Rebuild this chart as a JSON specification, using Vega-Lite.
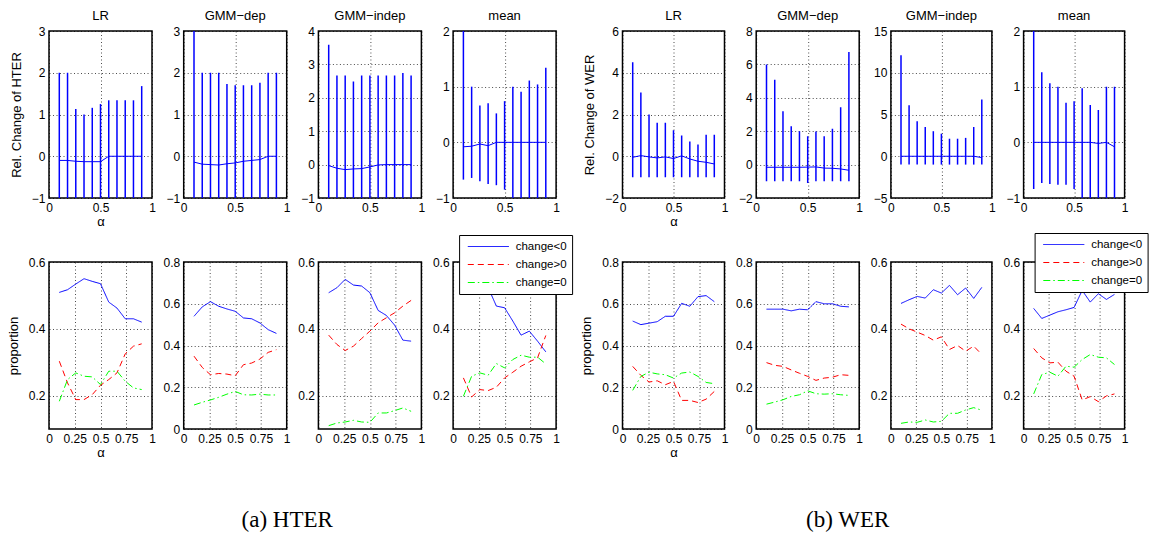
{
"$schema": "https://vega.github.io/schema/vega-lite/v6.json",
"background": "white",
"padding": {"left": 6, "top": 9, "right": 0, "bottom": 0},
"columns": 9,
"spacing": {"row": 64, "column": 31.7},
"bounds": "flush",
"align": "each",
"resolve": {"legend": {"stroke": "independent", "strokeDash": "independent"}},
"datasets": {
"bars": [
{"m":"H","k":"LR","a":0.1,"lo":-1,"hi":2,"mid":-0.1},{"m":"H","k":"LR","a":0.18,"lo":-1,"hi":2,"mid":-0.1},{"m":"H","k":"LR","a":0.26,"lo":-1,"hi":1.13,"mid":-0.12},{"m":"H","k":"LR","a":0.34,"lo":-1,"hi":1.0,"mid":-0.13},{"m":"H","k":"LR","a":0.42,"lo":-1,"hi":1.16,"mid":-0.13},{"m":"H","k":"LR","a":0.5,"lo":-1,"hi":1.25,"mid":-0.13},{"m":"H","k":"LR","a":0.58,"lo":-1,"hi":1.34,"mid":0},{"m":"H","k":"LR","a":0.66,"lo":-1,"hi":1.34,"mid":0},{"m":"H","k":"LR","a":0.74,"lo":-1,"hi":1.34,"mid":0},{"m":"H","k":"LR","a":0.82,"lo":-1,"hi":1.34,"mid":0},{"m":"H","k":"LR","a":0.9,"lo":-1,"hi":1.68,"mid":0},
{"m":"H","k":"dep","a":0.1,"lo":-1,"hi":3,"mid":-0.14},{"m":"H","k":"dep","a":0.18,"lo":-1,"hi":2,"mid":-0.19},{"m":"H","k":"dep","a":0.26,"lo":-1,"hi":2,"mid":-0.2},{"m":"H","k":"dep","a":0.34,"lo":-1,"hi":2,"mid":-0.21},{"m":"H","k":"dep","a":0.42,"lo":-1,"hi":1.73,"mid":-0.18},{"m":"H","k":"dep","a":0.5,"lo":-1,"hi":1.7,"mid":-0.16},{"m":"H","k":"dep","a":0.58,"lo":-1,"hi":1.7,"mid":-0.12},{"m":"H","k":"dep","a":0.66,"lo":-1,"hi":1.7,"mid":-0.1},{"m":"H","k":"dep","a":0.74,"lo":-1,"hi":1.76,"mid":-0.08},{"m":"H","k":"dep","a":0.82,"lo":-1,"hi":2,"mid":0},{"m":"H","k":"dep","a":0.9,"lo":-1,"hi":2,"mid":0},
{"m":"H","k":"indep","a":0.1,"lo":-1,"hi":3.59,"mid":-0.03},{"m":"H","k":"indep","a":0.18,"lo":-1,"hi":2.67,"mid":-0.11},{"m":"H","k":"indep","a":0.26,"lo":-1,"hi":2.67,"mid":-0.15},{"m":"H","k":"indep","a":0.34,"lo":-1,"hi":2.49,"mid":-0.13},{"m":"H","k":"indep","a":0.42,"lo":-1,"hi":2.67,"mid":-0.12},{"m":"H","k":"indep","a":0.5,"lo":-1,"hi":2.67,"mid":-0.07},{"m":"H","k":"indep","a":0.58,"lo":-1,"hi":2.67,"mid":-0.01},{"m":"H","k":"indep","a":0.66,"lo":-1,"hi":2.67,"mid":0},{"m":"H","k":"indep","a":0.74,"lo":-1,"hi":2.67,"mid":0},{"m":"H","k":"indep","a":0.82,"lo":-1,"hi":2.74,"mid":0},{"m":"H","k":"indep","a":0.9,"lo":-1,"hi":2.67,"mid":0},
{"m":"H","k":"mean","a":0.1,"lo":-0.67,"hi":2,"mid":-0.08},{"m":"H","k":"mean","a":0.18,"lo":-0.64,"hi":1.0,"mid":-0.07},{"m":"H","k":"mean","a":0.26,"lo":-0.7,"hi":0.66,"mid":-0.03},{"m":"H","k":"mean","a":0.34,"lo":-0.75,"hi":0.7,"mid":-0.06},{"m":"H","k":"mean","a":0.42,"lo":-0.77,"hi":0.52,"mid":0},{"m":"H","k":"mean","a":0.5,"lo":-0.85,"hi":0.74,"mid":0},{"m":"H","k":"mean","a":0.58,"lo":-1,"hi":1.0,"mid":0},{"m":"H","k":"mean","a":0.66,"lo":-1,"hi":0.91,"mid":0},{"m":"H","k":"mean","a":0.74,"lo":-1,"hi":1.11,"mid":0},{"m":"H","k":"mean","a":0.82,"lo":-1,"hi":1.04,"mid":0},{"m":"H","k":"mean","a":0.9,"lo":-1,"hi":1.34,"mid":0},
{"m":"W","k":"LR","a":0.1,"lo":-1,"hi":4.5,"mid":-0.05},{"m":"W","k":"LR","a":0.18,"lo":-1,"hi":3.05,"mid":0.03},{"m":"W","k":"LR","a":0.26,"lo":-1,"hi":2.0,"mid":-0.03},{"m":"W","k":"LR","a":0.34,"lo":-1,"hi":1.6,"mid":-0.08},{"m":"W","k":"LR","a":0.42,"lo":-1,"hi":1.6,"mid":-0.03},{"m":"W","k":"LR","a":0.5,"lo":-1,"hi":1.24,"mid":-0.11},{"m":"W","k":"LR","a":0.58,"lo":-1,"hi":1.0,"mid":0.02},{"m":"W","k":"LR","a":0.66,"lo":-1,"hi":0.71,"mid":-0.13},{"m":"W","k":"LR","a":0.74,"lo":-1,"hi":0.56,"mid":-0.24},{"m":"W","k":"LR","a":0.82,"lo":-1,"hi":1.03,"mid":-0.29},{"m":"W","k":"LR","a":0.9,"lo":-1,"hi":1.03,"mid":-0.37},
{"m":"W","k":"dep","a":0.1,"lo":-1,"hi":6.0,"mid":-0.16},{"m":"W","k":"dep","a":0.18,"lo":-1,"hi":5.08,"mid":-0.16},{"m":"W","k":"dep","a":0.26,"lo":-1,"hi":3.2,"mid":-0.16},{"m":"W","k":"dep","a":0.34,"lo":-1,"hi":2.3,"mid":-0.16},{"m":"W","k":"dep","a":0.42,"lo":-1,"hi":2.0,"mid":-0.16},{"m":"W","k":"dep","a":0.5,"lo":-1.1,"hi":1.7,"mid":-0.15},{"m":"W","k":"dep","a":0.58,"lo":-1,"hi":1.98,"mid":-0.14},{"m":"W","k":"dep","a":0.66,"lo":-1,"hi":1.7,"mid":-0.21},{"m":"W","k":"dep","a":0.74,"lo":-1,"hi":2.14,"mid":-0.22},{"m":"W","k":"dep","a":0.82,"lo":-1,"hi":3.44,"mid":-0.26},{"m":"W","k":"dep","a":0.9,"lo":-1,"hi":6.74,"mid":-0.34},
{"m":"W","k":"indep","a":0.1,"lo":-1,"hi":12.1,"mid":0},{"m":"W","k":"indep","a":0.18,"lo":-1,"hi":6.1,"mid":0},{"m":"W","k":"indep","a":0.26,"lo":-1,"hi":4.2,"mid":0},{"m":"W","k":"indep","a":0.34,"lo":-1,"hi":3.5,"mid":0},{"m":"W","k":"indep","a":0.42,"lo":-1,"hi":3.0,"mid":0},{"m":"W","k":"indep","a":0.5,"lo":-1,"hi":2.7,"mid":0},{"m":"W","k":"indep","a":0.58,"lo":-1,"hi":2.1,"mid":0},{"m":"W","k":"indep","a":0.66,"lo":-1,"hi":2.1,"mid":0},{"m":"W","k":"indep","a":0.74,"lo":-1,"hi":2.2,"mid":0},{"m":"W","k":"indep","a":0.82,"lo":-1,"hi":3.5,"mid":0},{"m":"W","k":"indep","a":0.9,"lo":-1,"hi":6.8,"mid":-0.16},
{"m":"W","k":"mean","a":0.1,"lo":-0.84,"hi":2,"mid":0},{"m":"W","k":"mean","a":0.18,"lo":-0.73,"hi":1.26,"mid":0},{"m":"W","k":"mean","a":0.26,"lo":-0.75,"hi":1.06,"mid":0},{"m":"W","k":"mean","a":0.34,"lo":-0.76,"hi":1.0,"mid":0},{"m":"W","k":"mean","a":0.42,"lo":-0.76,"hi":0.71,"mid":0},{"m":"W","k":"mean","a":0.5,"lo":-0.84,"hi":0.74,"mid":0},{"m":"W","k":"mean","a":0.58,"lo":-1,"hi":0.97,"mid":0},{"m":"W","k":"mean","a":0.66,"lo":-1,"hi":0.67,"mid":0},{"m":"W","k":"mean","a":0.74,"lo":-1,"hi":0.58,"mid":-0.02},{"m":"W","k":"mean","a":0.82,"lo":-1,"hi":1.0,"mid":0},{"m":"W","k":"mean","a":0.9,"lo":-1,"hi":1.0,"mid":-0.08}
],
"props": [
{"m":"H","k":"LR","s":"change<0","a":0.1,"v":0.509},{"m":"H","k":"LR","s":"change<0","a":0.18,"v":0.517},{"m":"H","k":"LR","s":"change<0","a":0.26,"v":0.534},{"m":"H","k":"LR","s":"change<0","a":0.34,"v":0.55},{"m":"H","k":"LR","s":"change<0","a":0.42,"v":0.542},{"m":"H","k":"LR","s":"change<0","a":0.5,"v":0.535},{"m":"H","k":"LR","s":"change<0","a":0.58,"v":0.48},{"m":"H","k":"LR","s":"change<0","a":0.66,"v":0.462},{"m":"H","k":"LR","s":"change<0","a":0.74,"v":0.43},{"m":"H","k":"LR","s":"change<0","a":0.82,"v":0.43},{"m":"H","k":"LR","s":"change<0","a":0.9,"v":0.42},
{"m":"H","k":"LR","s":"change>0","a":0.1,"v":0.303},{"m":"H","k":"LR","s":"change>0","a":0.18,"v":0.238},{"m":"H","k":"LR","s":"change>0","a":0.26,"v":0.188},{"m":"H","k":"LR","s":"change>0","a":0.34,"v":0.188},{"m":"H","k":"LR","s":"change>0","a":0.42,"v":0.203},{"m":"H","k":"LR","s":"change>0","a":0.5,"v":0.231},{"m":"H","k":"LR","s":"change>0","a":0.58,"v":0.248},{"m":"H","k":"LR","s":"change>0","a":0.66,"v":0.268},{"m":"H","k":"LR","s":"change>0","a":0.74,"v":0.325},{"m":"H","k":"LR","s":"change>0","a":0.82,"v":0.348},{"m":"H","k":"LR","s":"change>0","a":0.9,"v":0.355},
{"m":"H","k":"LR","s":"change=0","a":0.1,"v":0.183},{"m":"H","k":"LR","s":"change=0","a":0.18,"v":0.248},{"m":"H","k":"LR","s":"change=0","a":0.26,"v":0.268},{"m":"H","k":"LR","s":"change=0","a":0.34,"v":0.258},{"m":"H","k":"LR","s":"change=0","a":0.42,"v":0.256},{"m":"H","k":"LR","s":"change=0","a":0.5,"v":0.233},{"m":"H","k":"LR","s":"change=0","a":0.58,"v":0.273},{"m":"H","k":"LR","s":"change=0","a":0.66,"v":0.273},{"m":"H","k":"LR","s":"change=0","a":0.74,"v":0.243},{"m":"H","k":"LR","s":"change=0","a":0.82,"v":0.223},{"m":"H","k":"LR","s":"change=0","a":0.9,"v":0.218},
{"m":"H","k":"dep","s":"change<0","a":0.1,"v":0.54},{"m":"H","k":"dep","s":"change<0","a":0.18,"v":0.585},{"m":"H","k":"dep","s":"change<0","a":0.26,"v":0.61},{"m":"H","k":"dep","s":"change<0","a":0.34,"v":0.588},{"m":"H","k":"dep","s":"change<0","a":0.42,"v":0.575},{"m":"H","k":"dep","s":"change<0","a":0.5,"v":0.564},{"m":"H","k":"dep","s":"change<0","a":0.58,"v":0.532},{"m":"H","k":"dep","s":"change<0","a":0.66,"v":0.528},{"m":"H","k":"dep","s":"change<0","a":0.74,"v":0.508},{"m":"H","k":"dep","s":"change<0","a":0.82,"v":0.476},{"m":"H","k":"dep","s":"change<0","a":0.9,"v":0.458},
{"m":"H","k":"dep","s":"change>0","a":0.1,"v":0.349},{"m":"H","k":"dep","s":"change>0","a":0.18,"v":0.295},{"m":"H","k":"dep","s":"change>0","a":0.26,"v":0.26},{"m":"H","k":"dep","s":"change>0","a":0.34,"v":0.266},{"m":"H","k":"dep","s":"change>0","a":0.42,"v":0.263},{"m":"H","k":"dep","s":"change>0","a":0.5,"v":0.255},{"m":"H","k":"dep","s":"change>0","a":0.58,"v":0.308},{"m":"H","k":"dep","s":"change>0","a":0.66,"v":0.316},{"m":"H","k":"dep","s":"change>0","a":0.74,"v":0.335},{"m":"H","k":"dep","s":"change>0","a":0.82,"v":0.367},{"m":"H","k":"dep","s":"change>0","a":0.9,"v":0.38},
{"m":"H","k":"dep","s":"change=0","a":0.1,"v":0.115},{"m":"H","k":"dep","s":"change=0","a":0.18,"v":0.128},{"m":"H","k":"dep","s":"change=0","a":0.26,"v":0.139},{"m":"H","k":"dep","s":"change=0","a":0.34,"v":0.152},{"m":"H","k":"dep","s":"change=0","a":0.42,"v":0.167},{"m":"H","k":"dep","s":"change=0","a":0.5,"v":0.18},{"m":"H","k":"dep","s":"change=0","a":0.58,"v":0.164},{"m":"H","k":"dep","s":"change=0","a":0.66,"v":0.163},{"m":"H","k":"dep","s":"change=0","a":0.74,"v":0.167},{"m":"H","k":"dep","s":"change=0","a":0.82,"v":0.163},{"m":"H","k":"dep","s":"change=0","a":0.9,"v":0.163},
{"m":"H","k":"indep","s":"change<0","a":0.1,"v":0.508},{"m":"H","k":"indep","s":"change<0","a":0.18,"v":0.523},{"m":"H","k":"indep","s":"change<0","a":0.26,"v":0.548},{"m":"H","k":"indep","s":"change<0","a":0.34,"v":0.531},{"m":"H","k":"indep","s":"change<0","a":0.42,"v":0.528},{"m":"H","k":"indep","s":"change<0","a":0.5,"v":0.508},{"m":"H","k":"indep","s":"change<0","a":0.58,"v":0.455},{"m":"H","k":"indep","s":"change<0","a":0.66,"v":0.44},{"m":"H","k":"indep","s":"change<0","a":0.74,"v":0.411},{"m":"H","k":"indep","s":"change<0","a":0.82,"v":0.366},{"m":"H","k":"indep","s":"change<0","a":0.9,"v":0.363},
{"m":"H","k":"indep","s":"change>0","a":0.1,"v":0.381},{"m":"H","k":"indep","s":"change>0","a":0.18,"v":0.353},{"m":"H","k":"indep","s":"change>0","a":0.26,"v":0.335},{"m":"H","k":"indep","s":"change>0","a":0.34,"v":0.348},{"m":"H","k":"indep","s":"change>0","a":0.42,"v":0.371},{"m":"H","k":"indep","s":"change>0","a":0.5,"v":0.393},{"m":"H","k":"indep","s":"change>0","a":0.58,"v":0.418},{"m":"H","k":"indep","s":"change>0","a":0.66,"v":0.433},{"m":"H","k":"indep","s":"change>0","a":0.74,"v":0.448},{"m":"H","k":"indep","s":"change>0","a":0.82,"v":0.468},{"m":"H","k":"indep","s":"change>0","a":0.9,"v":0.485},
{"m":"H","k":"indep","s":"change=0","a":0.1,"v":0.11},{"m":"H","k":"indep","s":"change=0","a":0.18,"v":0.118},{"m":"H","k":"indep","s":"change=0","a":0.26,"v":0.121},{"m":"H","k":"indep","s":"change=0","a":0.34,"v":0.126},{"m":"H","k":"indep","s":"change=0","a":0.42,"v":0.121},{"m":"H","k":"indep","s":"change=0","a":0.5,"v":0.12},{"m":"H","k":"indep","s":"change=0","a":0.58,"v":0.148},{"m":"H","k":"indep","s":"change=0","a":0.66,"v":0.148},{"m":"H","k":"indep","s":"change=0","a":0.74,"v":0.155},{"m":"H","k":"indep","s":"change=0","a":0.82,"v":0.163},{"m":"H","k":"indep","s":"change=0","a":0.9,"v":0.153},
{"m":"H","k":"mean","s":"change<0","a":0.1,"v":0.549},{"m":"H","k":"mean","s":"change<0","a":0.18,"v":0.546},{"m":"H","k":"mean","s":"change<0","a":0.26,"v":0.514},{"m":"H","k":"mean","s":"change<0","a":0.34,"v":0.524},{"m":"H","k":"mean","s":"change<0","a":0.42,"v":0.468},{"m":"H","k":"mean","s":"change<0","a":0.5,"v":0.463},{"m":"H","k":"mean","s":"change<0","a":0.58,"v":0.423},{"m":"H","k":"mean","s":"change<0","a":0.66,"v":0.381},{"m":"H","k":"mean","s":"change<0","a":0.74,"v":0.393},{"m":"H","k":"mean","s":"change<0","a":0.82,"v":0.363},{"m":"H","k":"mean","s":"change<0","a":0.9,"v":0.331},
{"m":"H","k":"mean","s":"change>0","a":0.1,"v":0.253},{"m":"H","k":"mean","s":"change>0","a":0.18,"v":0.196},{"m":"H","k":"mean","s":"change>0","a":0.26,"v":0.218},{"m":"H","k":"mean","s":"change>0","a":0.34,"v":0.215},{"m":"H","k":"mean","s":"change>0","a":0.42,"v":0.225},{"m":"H","k":"mean","s":"change>0","a":0.5,"v":0.253},{"m":"H","k":"mean","s":"change>0","a":0.58,"v":0.27},{"m":"H","k":"mean","s":"change>0","a":0.66,"v":0.288},{"m":"H","k":"mean","s":"change>0","a":0.74,"v":0.301},{"m":"H","k":"mean","s":"change>0","a":0.82,"v":0.313},{"m":"H","k":"mean","s":"change>0","a":0.9,"v":0.38},
{"m":"H","k":"mean","s":"change=0","a":0.1,"v":0.198},{"m":"H","k":"mean","s":"change=0","a":0.18,"v":0.258},{"m":"H","k":"mean","s":"change=0","a":0.26,"v":0.268},{"m":"H","k":"mean","s":"change=0","a":0.34,"v":0.261},{"m":"H","k":"mean","s":"change=0","a":0.42,"v":0.296},{"m":"H","k":"mean","s":"change=0","a":0.5,"v":0.283},{"m":"H","k":"mean","s":"change=0","a":0.58,"v":0.308},{"m":"H","k":"mean","s":"change=0","a":0.66,"v":0.321},{"m":"H","k":"mean","s":"change=0","a":0.74,"v":0.315},{"m":"H","k":"mean","s":"change=0","a":0.82,"v":0.315},{"m":"H","k":"mean","s":"change=0","a":0.9,"v":0.295},
{"m":"W","k":"LR","s":"change<0","a":0.1,"v":0.517},{"m":"W","k":"LR","s":"change<0","a":0.18,"v":0.5},{"m":"W","k":"LR","s":"change<0","a":0.26,"v":0.507},{"m":"W","k":"LR","s":"change<0","a":0.34,"v":0.514},{"m":"W","k":"LR","s":"change<0","a":0.42,"v":0.54},{"m":"W","k":"LR","s":"change<0","a":0.5,"v":0.54},{"m":"W","k":"LR","s":"change<0","a":0.58,"v":0.602},{"m":"W","k":"LR","s":"change<0","a":0.66,"v":0.588},{"m":"W","k":"LR","s":"change<0","a":0.74,"v":0.634},{"m":"W","k":"LR","s":"change<0","a":0.82,"v":0.639},{"m":"W","k":"LR","s":"change<0","a":0.9,"v":0.61},
{"m":"W","k":"LR","s":"change>0","a":0.1,"v":0.3},{"m":"W","k":"LR","s":"change>0","a":0.18,"v":0.257},{"m":"W","k":"LR","s":"change>0","a":0.26,"v":0.225},{"m":"W","k":"LR","s":"change>0","a":0.34,"v":0.231},{"m":"W","k":"LR","s":"change>0","a":0.42,"v":0.212},{"m":"W","k":"LR","s":"change>0","a":0.5,"v":0.228},{"m":"W","k":"LR","s":"change>0","a":0.58,"v":0.137},{"m":"W","k":"LR","s":"change>0","a":0.66,"v":0.137},{"m":"W","k":"LR","s":"change>0","a":0.74,"v":0.127},{"m":"W","k":"LR","s":"change>0","a":0.82,"v":0.143},{"m":"W","k":"LR","s":"change>0","a":0.9,"v":0.18},
{"m":"W","k":"LR","s":"change=0","a":0.1,"v":0.185},{"m":"W","k":"LR","s":"change=0","a":0.18,"v":0.252},{"m":"W","k":"LR","s":"change=0","a":0.26,"v":0.272},{"m":"W","k":"LR","s":"change=0","a":0.34,"v":0.264},{"m":"W","k":"LR","s":"change=0","a":0.42,"v":0.26},{"m":"W","k":"LR","s":"change=0","a":0.5,"v":0.244},{"m":"W","k":"LR","s":"change=0","a":0.58,"v":0.268},{"m":"W","k":"LR","s":"change=0","a":0.66,"v":0.273},{"m":"W","k":"LR","s":"change=0","a":0.74,"v":0.252},{"m":"W","k":"LR","s":"change=0","a":0.82,"v":0.223},{"m":"W","k":"LR","s":"change=0","a":0.9,"v":0.217},
{"m":"W","k":"dep","s":"change<0","a":0.1,"v":0.574},{"m":"W","k":"dep","s":"change<0","a":0.18,"v":0.574},{"m":"W","k":"dep","s":"change<0","a":0.26,"v":0.574},{"m":"W","k":"dep","s":"change<0","a":0.34,"v":0.566},{"m":"W","k":"dep","s":"change<0","a":0.42,"v":0.574},{"m":"W","k":"dep","s":"change<0","a":0.5,"v":0.571},{"m":"W","k":"dep","s":"change<0","a":0.58,"v":0.61},{"m":"W","k":"dep","s":"change<0","a":0.66,"v":0.6},{"m":"W","k":"dep","s":"change<0","a":0.74,"v":0.6},{"m":"W","k":"dep","s":"change<0","a":0.82,"v":0.588},{"m":"W","k":"dep","s":"change<0","a":0.9,"v":0.585},
{"m":"W","k":"dep","s":"change>0","a":0.1,"v":0.318},{"m":"W","k":"dep","s":"change>0","a":0.18,"v":0.305},{"m":"W","k":"dep","s":"change>0","a":0.26,"v":0.3},{"m":"W","k":"dep","s":"change>0","a":0.34,"v":0.283},{"m":"W","k":"dep","s":"change>0","a":0.42,"v":0.267},{"m":"W","k":"dep","s":"change>0","a":0.5,"v":0.252},{"m":"W","k":"dep","s":"change>0","a":0.58,"v":0.233},{"m":"W","k":"dep","s":"change>0","a":0.66,"v":0.244},{"m":"W","k":"dep","s":"change>0","a":0.74,"v":0.248},{"m":"W","k":"dep","s":"change>0","a":0.82,"v":0.26},{"m":"W","k":"dep","s":"change>0","a":0.9,"v":0.257},
{"m":"W","k":"dep","s":"change=0","a":0.1,"v":0.119},{"m":"W","k":"dep","s":"change=0","a":0.18,"v":0.129},{"m":"W","k":"dep","s":"change=0","a":0.26,"v":0.14},{"m":"W","k":"dep","s":"change=0","a":0.34,"v":0.156},{"m":"W","k":"dep","s":"change=0","a":0.42,"v":0.164},{"m":"W","k":"dep","s":"change=0","a":0.5,"v":0.183},{"m":"W","k":"dep","s":"change=0","a":0.58,"v":0.169},{"m":"W","k":"dep","s":"change=0","a":0.66,"v":0.167},{"m":"W","k":"dep","s":"change=0","a":0.74,"v":0.169},{"m":"W","k":"dep","s":"change=0","a":0.82,"v":0.164},{"m":"W","k":"dep","s":"change=0","a":0.9,"v":0.161},
{"m":"W","k":"indep","s":"change<0","a":0.1,"v":0.476},{"m":"W","k":"indep","s":"change<0","a":0.18,"v":0.487},{"m":"W","k":"indep","s":"change<0","a":0.26,"v":0.497},{"m":"W","k":"indep","s":"change<0","a":0.34,"v":0.492},{"m":"W","k":"indep","s":"change<0","a":0.42,"v":0.517},{"m":"W","k":"indep","s":"change<0","a":0.5,"v":0.507},{"m":"W","k":"indep","s":"change<0","a":0.58,"v":0.53},{"m":"W","k":"indep","s":"change<0","a":0.66,"v":0.502},{"m":"W","k":"indep","s":"change<0","a":0.74,"v":0.522},{"m":"W","k":"indep","s":"change<0","a":0.82,"v":0.491},{"m":"W","k":"indep","s":"change<0","a":0.9,"v":0.524},
{"m":"W","k":"indep","s":"change>0","a":0.1,"v":0.414},{"m":"W","k":"indep","s":"change>0","a":0.18,"v":0.4},{"m":"W","k":"indep","s":"change>0","a":0.26,"v":0.39},{"m":"W","k":"indep","s":"change>0","a":0.34,"v":0.38},{"m":"W","k":"indep","s":"change>0","a":0.42,"v":0.366},{"m":"W","k":"indep","s":"change>0","a":0.5,"v":0.376},{"m":"W","k":"indep","s":"change>0","a":0.58,"v":0.338},{"m":"W","k":"indep","s":"change>0","a":0.66,"v":0.35},{"m":"W","k":"indep","s":"change>0","a":0.74,"v":0.333},{"m":"W","k":"indep","s":"change>0","a":0.82,"v":0.348},{"m":"W","k":"indep","s":"change>0","a":0.9,"v":0.323},
{"m":"W","k":"indep","s":"change=0","a":0.1,"v":0.117},{"m":"W","k":"indep","s":"change=0","a":0.18,"v":0.121},{"m":"W","k":"indep","s":"change=0","a":0.26,"v":0.12},{"m":"W","k":"indep","s":"change=0","a":0.34,"v":0.127},{"m":"W","k":"indep","s":"change=0","a":0.42,"v":0.121},{"m":"W","k":"indep","s":"change=0","a":0.5,"v":0.123},{"m":"W","k":"indep","s":"change=0","a":0.58,"v":0.147},{"m":"W","k":"indep","s":"change=0","a":0.66,"v":0.147},{"m":"W","k":"indep","s":"change=0","a":0.74,"v":0.157},{"m":"W","k":"indep","s":"change=0","a":0.82,"v":0.164},{"m":"W","k":"indep","s":"change=0","a":0.9,"v":0.156},
{"m":"W","k":"mean","s":"change<0","a":0.1,"v":0.461},{"m":"W","k":"mean","s":"change<0","a":0.18,"v":0.431},{"m":"W","k":"mean","s":"change<0","a":0.26,"v":0.441},{"m":"W","k":"mean","s":"change<0","a":0.34,"v":0.451},{"m":"W","k":"mean","s":"change<0","a":0.42,"v":0.457},{"m":"W","k":"mean","s":"change<0","a":0.5,"v":0.464},{"m":"W","k":"mean","s":"change<0","a":0.58,"v":0.515},{"m":"W","k":"mean","s":"change<0","a":0.66,"v":0.48},{"m":"W","k":"mean","s":"change<0","a":0.74,"v":0.505},{"m":"W","k":"mean","s":"change<0","a":0.82,"v":0.488},{"m":"W","k":"mean","s":"change<0","a":0.9,"v":0.503},
{"m":"W","k":"mean","s":"change>0","a":0.1,"v":0.341},{"m":"W","k":"mean","s":"change>0","a":0.18,"v":0.313},{"m":"W","k":"mean","s":"change>0","a":0.26,"v":0.298},{"m":"W","k":"mean","s":"change>0","a":0.34,"v":0.3},{"m":"W","k":"mean","s":"change>0","a":0.42,"v":0.273},{"m":"W","k":"mean","s":"change>0","a":0.5,"v":0.258},{"m":"W","k":"mean","s":"change>0","a":0.58,"v":0.187},{"m":"W","k":"mean","s":"change>0","a":0.66,"v":0.197},{"m":"W","k":"mean","s":"change>0","a":0.74,"v":0.182},{"m":"W","k":"mean","s":"change>0","a":0.82,"v":0.199},{"m":"W","k":"mean","s":"change>0","a":0.9,"v":0.205},
{"m":"W","k":"mean","s":"change=0","a":0.1,"v":0.205},{"m":"W","k":"mean","s":"change=0","a":0.18,"v":0.263},{"m":"W","k":"mean","s":"change=0","a":0.26,"v":0.27},{"m":"W","k":"mean","s":"change=0","a":0.34,"v":0.258},{"m":"W","k":"mean","s":"change=0","a":0.42,"v":0.288},{"m":"W","k":"mean","s":"change=0","a":0.5,"v":0.285},{"m":"W","k":"mean","s":"change=0","a":0.58,"v":0.308},{"m":"W","k":"mean","s":"change=0","a":0.66,"v":0.323},{"m":"W","k":"mean","s":"change=0","a":0.74,"v":0.315},{"m":"W","k":"mean","s":"change=0","a":0.82,"v":0.313},{"m":"W","k":"mean","s":"change=0","a":0.9,"v":0.293}
]
},
"concat": [
{"title":"LR","width":103,"height":167,"data":{"name":"bars"},"transform":[{"filter":"datum.m=='H'&&datum.k=='LR'"}],"encoding":{"x":{"field":"a","type":"quantitative","scale":{"domain":[0,1],"nice":false,"zero":false},"axis":{"values":[0,0.5,1],"format":".2~f","labelOverlap":false,"title":"α"}}},"layer":[{"mark":{"type":"rule","color":"#0000ff","strokeWidth":1.5,"clip":true},"encoding":{"y":{"field":"lo","type":"quantitative","scale":{"domain":[-1,3],"nice":false,"zero":false},"axis":{"values":[-1,0,1,2,3],"tickCount":20,"format":".2~f","labelOverlap":false,"title":"Rel. Change of HTER"}},"y2":{"field":"hi"}}},{"mark":{"type":"line","color":"#0000ff","strokeWidth":1,"clip":true},"encoding":{"y":{"field":"mid","type":"quantitative"}}}]},
{"title":"GMM−dep","width":103,"height":167,"data":{"name":"bars"},"transform":[{"filter":"datum.m=='H'&&datum.k=='dep'"}],"encoding":{"x":{"field":"a","type":"quantitative","scale":{"domain":[0,1],"nice":false,"zero":false},"axis":{"values":[0,0.5,1],"format":".2~f","labelOverlap":false,"title":null}}},"layer":[{"mark":{"type":"rule","color":"#0000ff","strokeWidth":1.5,"clip":true},"encoding":{"y":{"field":"lo","type":"quantitative","scale":{"domain":[-1,3],"nice":false,"zero":false},"axis":{"values":[-1,0,1,2,3],"tickCount":20,"format":".2~f","labelOverlap":false,"title":null}},"y2":{"field":"hi"}}},{"mark":{"type":"line","color":"#0000ff","strokeWidth":1,"clip":true},"encoding":{"y":{"field":"mid","type":"quantitative"}}}]},
{"title":"GMM−indep","width":103,"height":167,"data":{"name":"bars"},"transform":[{"filter":"datum.m=='H'&&datum.k=='indep'"}],"encoding":{"x":{"field":"a","type":"quantitative","scale":{"domain":[0,1],"nice":false,"zero":false},"axis":{"values":[0,0.5,1],"format":".2~f","labelOverlap":false,"title":null}}},"layer":[{"mark":{"type":"rule","color":"#0000ff","strokeWidth":1.5,"clip":true},"encoding":{"y":{"field":"lo","type":"quantitative","scale":{"domain":[-1,4],"nice":false,"zero":false},"axis":{"values":[-1,0,1,2,3,4],"tickCount":20,"format":".2~f","labelOverlap":false,"title":null}},"y2":{"field":"hi"}}},{"mark":{"type":"line","color":"#0000ff","strokeWidth":1,"clip":true},"encoding":{"y":{"field":"mid","type":"quantitative"}}}]},
{"title":"mean","width":103,"height":167,"data":{"name":"bars"},"transform":[{"filter":"datum.m=='H'&&datum.k=='mean'"}],"encoding":{"x":{"field":"a","type":"quantitative","scale":{"domain":[0,1],"nice":false,"zero":false},"axis":{"values":[0,0.5,1],"format":".2~f","labelOverlap":false,"title":null}}},"layer":[{"mark":{"type":"rule","color":"#0000ff","strokeWidth":1.5,"clip":true},"encoding":{"y":{"field":"lo","type":"quantitative","scale":{"domain":[-1,2],"nice":false,"zero":false},"axis":{"values":[-1,0,1,2],"tickCount":20,"format":".2~f","labelOverlap":false,"title":null}},"y2":{"field":"hi"}}},{"mark":{"type":"line","color":"#0000ff","strokeWidth":1,"clip":true},"encoding":{"y":{"field":"mid","type":"quantitative"}}}]},
{"width":2.5,"height":167,"view":{"stroke":null},"data":{"values":[{"a":0}]},"mark":{"type":"point","opacity":0},"encoding":{}},
{"title":"LR","width":102,"height":167,"data":{"name":"bars"},"transform":[{"filter":"datum.m=='W'&&datum.k=='LR'"}],"encoding":{"x":{"field":"a","type":"quantitative","scale":{"domain":[0,1],"nice":false,"zero":false},"axis":{"values":[0,0.5,1],"format":".2~f","labelOverlap":false,"title":"α"}}},"layer":[{"mark":{"type":"rule","color":"#0000ff","strokeWidth":1.5,"clip":true},"encoding":{"y":{"field":"lo","type":"quantitative","scale":{"domain":[-2,6],"nice":false,"zero":false},"axis":{"values":[-2,0,2,4,6],"tickCount":20,"format":".2~f","labelOverlap":false,"title":"Rel. Change of WER"}},"y2":{"field":"hi"}}},{"mark":{"type":"line","color":"#0000ff","strokeWidth":1,"clip":true},"encoding":{"y":{"field":"mid","type":"quantitative"}}}]},
{"title":"GMM−dep","width":103,"height":167,"data":{"name":"bars"},"transform":[{"filter":"datum.m=='W'&&datum.k=='dep'"}],"encoding":{"x":{"field":"a","type":"quantitative","scale":{"domain":[0,1],"nice":false,"zero":false},"axis":{"values":[0,0.5,1],"format":".2~f","labelOverlap":false,"title":null}}},"layer":[{"mark":{"type":"rule","color":"#0000ff","strokeWidth":1.5,"clip":true},"encoding":{"y":{"field":"lo","type":"quantitative","scale":{"domain":[-2,8],"nice":false,"zero":false},"axis":{"values":[-2,0,2,4,6,8],"tickCount":20,"format":".2~f","labelOverlap":false,"title":null}},"y2":{"field":"hi"}}},{"mark":{"type":"line","color":"#0000ff","strokeWidth":1,"clip":true},"encoding":{"y":{"field":"mid","type":"quantitative"}}}]},
{"title":"GMM−indep","width":101,"height":167,"data":{"name":"bars"},"transform":[{"filter":"datum.m=='W'&&datum.k=='indep'"}],"encoding":{"x":{"field":"a","type":"quantitative","scale":{"domain":[0,1],"nice":false,"zero":false},"axis":{"values":[0,0.5,1],"format":".2~f","labelOverlap":false,"title":null}}},"layer":[{"mark":{"type":"rule","color":"#0000ff","strokeWidth":1.5,"clip":true},"encoding":{"y":{"field":"lo","type":"quantitative","scale":{"domain":[-5,15],"nice":false,"zero":false},"axis":{"values":[-5,0,5,10,15],"tickCount":20,"format":".2~f","labelOverlap":false,"title":null}},"y2":{"field":"hi"}}},{"mark":{"type":"line","color":"#0000ff","strokeWidth":1,"clip":true},"encoding":{"y":{"field":"mid","type":"quantitative"}}}]},
{"title":"mean","width":101,"height":167,"data":{"name":"bars"},"transform":[{"filter":"datum.m=='W'&&datum.k=='mean'"}],"encoding":{"x":{"field":"a","type":"quantitative","scale":{"domain":[0,1],"nice":false,"zero":false},"axis":{"values":[0,0.5,1],"format":".2~f","labelOverlap":false,"title":null}}},"layer":[{"mark":{"type":"rule","color":"#0000ff","strokeWidth":1.5,"clip":true},"encoding":{"y":{"field":"lo","type":"quantitative","scale":{"domain":[-1,2],"nice":false,"zero":false},"axis":{"values":[-1,0,1,2],"tickCount":20,"format":".2~f","labelOverlap":false,"title":null}},"y2":{"field":"hi"}}},{"mark":{"type":"line","color":"#0000ff","strokeWidth":1,"clip":true},"encoding":{"y":{"field":"mid","type":"quantitative"}}}]},

{"width":103,"height":167,"data":{"name":"props"},"transform":[{"filter":"datum.m=='H'&&datum.k=='LR'"}],"mark":{"type":"line","strokeWidth":1,"clip":true},"encoding":{"x":{"field":"a","type":"quantitative","scale":{"domain":[0,1],"nice":false,"zero":false},"axis":{"values":[0,0.25,0.5,0.75,1],"tickCount":20,"format":".2~f","labelOverlap":false,"title":"α"}},"y":{"field":"v","type":"quantitative","scale":{"domain":[0.1,0.6],"nice":false,"zero":false},"axis":{"values":[0.2,0.4,0.6],"tickCount":20,"format":".2~f","labelOverlap":false,"title":"proportion"}},"stroke":{"field":"s","type":"nominal","scale":{"domain":["change<0","change>0","change=0"],"range":["#0000ff","#ff0000","#00ff00"]},"legend":null},"strokeDash":{"field":"s","type":"nominal","scale":{"domain":["change<0","change>0","change=0"],"range":[[1,0],[6,4],[7,3,1.5,3]]},"legend":null}}},
{"width":103,"height":167,"title":{"text":"(a) HTER","orient":"bottom","anchor":"middle","frame":"group","dx":52,"offset":65,"font":"Liberation Serif","fontSize":23},"data":{"name":"props"},"transform":[{"filter":"datum.m=='H'&&datum.k=='dep'"}],"mark":{"type":"line","strokeWidth":1,"clip":true},"encoding":{"x":{"field":"a","type":"quantitative","scale":{"domain":[0,1],"nice":false,"zero":false},"axis":{"values":[0,0.25,0.5,0.75,1],"tickCount":20,"format":".2~f","labelOverlap":false,"title":null}},"y":{"field":"v","type":"quantitative","scale":{"domain":[0,0.8],"nice":false,"zero":false},"axis":{"values":[0,0.2,0.4,0.6,0.8],"tickCount":20,"format":".2~f","labelOverlap":false,"title":null}},"stroke":{"field":"s","type":"nominal","scale":{"domain":["change<0","change>0","change=0"],"range":["#0000ff","#ff0000","#00ff00"]},"legend":null},"strokeDash":{"field":"s","type":"nominal","scale":{"domain":["change<0","change>0","change=0"],"range":[[1,0],[6,4],[7,3,1.5,3]]},"legend":null}}},
{"width":103,"height":167,"data":{"name":"props"},"transform":[{"filter":"datum.m=='H'&&datum.k=='indep'"}],"mark":{"type":"line","strokeWidth":1,"clip":true},"encoding":{"x":{"field":"a","type":"quantitative","scale":{"domain":[0,1],"nice":false,"zero":false},"axis":{"values":[0,0.25,0.5,0.75,1],"tickCount":20,"format":".2~f","labelOverlap":false,"title":null}},"y":{"field":"v","type":"quantitative","scale":{"domain":[0.1,0.6],"nice":false,"zero":false},"axis":{"values":[0.2,0.4,0.6],"tickCount":20,"format":".2~f","labelOverlap":false,"title":null}},"stroke":{"field":"s","type":"nominal","scale":{"domain":["change<0","change>0","change=0"],"range":["#0000ff","#ff0000","#00ff00"]},"legend":null},"strokeDash":{"field":"s","type":"nominal","scale":{"domain":["change<0","change>0","change=0"],"range":[[1,0],[6,4],[7,3,1.5,3]]},"legend":null}}},
{"width":103,"height":167,"data":{"name":"props"},"transform":[{"filter":"datum.m=='H'&&datum.k=='mean'"}],"mark":{"type":"line","strokeWidth":1,"clip":true},"encoding":{"x":{"field":"a","type":"quantitative","scale":{"domain":[0,1],"nice":false,"zero":false},"axis":{"values":[0,0.25,0.5,0.75,1],"tickCount":20,"format":".2~f","labelOverlap":false,"title":null}},"y":{"field":"v","type":"quantitative","scale":{"domain":[0.1,0.6],"nice":false,"zero":false},"axis":{"values":[0.2,0.4,0.6],"tickCount":20,"format":".2~f","labelOverlap":false,"title":null}},"stroke":{"field":"s","type":"nominal","scale":{"domain":["change<0","change>0","change=0"],"range":["#0000ff","#ff0000","#00ff00"]},"legend":{"orient":"none","legendX":6,"legendY":-27,"title":null,"strokeColor":"black","fillColor":"white","padding":5,"symbolType":"stroke","symbolSize":1681,"clipHeight":13,"symbolStrokeWidth":1,"symbolOffset":3.2,"labelOffset":6.4,"labelFontSize":11.5,"labelFont":"Liberation Sans","labelColor":"black","rowPadding":5,"cornerRadius":0,"labelLimit":200}},"strokeDash":{"field":"s","type":"nominal","scale":{"domain":["change<0","change>0","change=0"],"range":[[1,0],[6,4],[7,3,1.5,3]]},"legend":null}}},
{"width":2.5,"height":167,"view":{"stroke":null},"data":{"values":[{"a":0}]},"mark":{"type":"point","opacity":0},"encoding":{}},
{"width":102,"height":167,"data":{"name":"props"},"transform":[{"filter":"datum.m=='W'&&datum.k=='LR'"}],"mark":{"type":"line","strokeWidth":1,"clip":true},"encoding":{"x":{"field":"a","type":"quantitative","scale":{"domain":[0,1],"nice":false,"zero":false},"axis":{"values":[0,0.25,0.5,0.75,1],"tickCount":20,"format":".2~f","labelOverlap":false,"title":"α"}},"y":{"field":"v","type":"quantitative","scale":{"domain":[0,0.8],"nice":false,"zero":false},"axis":{"values":[0,0.2,0.4,0.6,0.8],"tickCount":20,"format":".2~f","labelOverlap":false,"title":"proportion"}},"stroke":{"field":"s","type":"nominal","scale":{"domain":["change<0","change>0","change=0"],"range":["#0000ff","#ff0000","#00ff00"]},"legend":null},"strokeDash":{"field":"s","type":"nominal","scale":{"domain":["change<0","change>0","change=0"],"range":[[1,0],[6,4],[7,3,1.5,3]]},"legend":null}}},
{"width":103,"height":167,"title":{"text":"(b) WER","orient":"bottom","anchor":"middle","frame":"group","dx":40,"offset":65,"font":"Liberation Serif","fontSize":23},"data":{"name":"props"},"transform":[{"filter":"datum.m=='W'&&datum.k=='dep'"}],"mark":{"type":"line","strokeWidth":1,"clip":true},"encoding":{"x":{"field":"a","type":"quantitative","scale":{"domain":[0,1],"nice":false,"zero":false},"axis":{"values":[0,0.25,0.5,0.75,1],"tickCount":20,"format":".2~f","labelOverlap":false,"title":null}},"y":{"field":"v","type":"quantitative","scale":{"domain":[0,0.8],"nice":false,"zero":false},"axis":{"values":[0,0.2,0.4,0.6,0.8],"tickCount":20,"format":".2~f","labelOverlap":false,"title":null}},"stroke":{"field":"s","type":"nominal","scale":{"domain":["change<0","change>0","change=0"],"range":["#0000ff","#ff0000","#00ff00"]},"legend":null},"strokeDash":{"field":"s","type":"nominal","scale":{"domain":["change<0","change>0","change=0"],"range":[[1,0],[6,4],[7,3,1.5,3]]},"legend":null}}},
{"width":101,"height":167,"data":{"name":"props"},"transform":[{"filter":"datum.m=='W'&&datum.k=='indep'"}],"mark":{"type":"line","strokeWidth":1,"clip":true},"encoding":{"x":{"field":"a","type":"quantitative","scale":{"domain":[0,1],"nice":false,"zero":false},"axis":{"values":[0,0.25,0.5,0.75,1],"tickCount":20,"format":".2~f","labelOverlap":false,"title":null}},"y":{"field":"v","type":"quantitative","scale":{"domain":[0.1,0.6],"nice":false,"zero":false},"axis":{"values":[0.2,0.4,0.6],"tickCount":20,"format":".2~f","labelOverlap":false,"title":null}},"stroke":{"field":"s","type":"nominal","scale":{"domain":["change<0","change>0","change=0"],"range":["#0000ff","#ff0000","#00ff00"]},"legend":null},"strokeDash":{"field":"s","type":"nominal","scale":{"domain":["change<0","change>0","change=0"],"range":[[1,0],[6,4],[7,3,1.5,3]]},"legend":null}}},
{"width":101,"height":167,"data":{"name":"props"},"transform":[{"filter":"datum.m=='W'&&datum.k=='mean'"}],"mark":{"type":"line","strokeWidth":1,"clip":true},"encoding":{"x":{"field":"a","type":"quantitative","scale":{"domain":[0,1],"nice":false,"zero":false},"axis":{"values":[0,0.25,0.5,0.75,1],"tickCount":20,"format":".2~f","labelOverlap":false,"title":null}},"y":{"field":"v","type":"quantitative","scale":{"domain":[0.1,0.6],"nice":false,"zero":false},"axis":{"values":[0.2,0.4,0.6],"tickCount":20,"format":".2~f","labelOverlap":false,"title":null}},"stroke":{"field":"s","type":"nominal","scale":{"domain":["change<0","change>0","change=0"],"range":["#0000ff","#ff0000","#00ff00"]},"legend":{"orient":"none","legendX":11,"legendY":-29,"title":null,"strokeColor":"black","fillColor":"white","padding":5,"symbolType":"stroke","symbolSize":1681,"clipHeight":13,"symbolStrokeWidth":1,"symbolOffset":3.2,"labelOffset":6.4,"labelFontSize":11.5,"labelFont":"Liberation Sans","labelColor":"black","rowPadding":5,"cornerRadius":0,"labelLimit":200}},"strokeDash":{"field":"s","type":"nominal","scale":{"domain":["change<0","change>0","change=0"],"range":[[1,0],[6,4],[7,3,1.5,3]]},"legend":null}}}
],
"config": {
"view": {"stroke": "black", "strokeWidth": 1.5},
"axis": {"domain": false, "ticks": false, "labelPadding": 4, "labelFont": "Liberation Sans", "labelFontSize": 12, "labelColor": "black", "labelFlush": false, "labelOverlap": false, "labelBound": false, "tickCount": 20, "grid": true, "gridColor": "#000000", "gridDash": [1, 2.5], "gridOpacity": 0.7, "gridWidth": 1, "titleFont": "Liberation Sans", "titleFontSize": 13, "titleFontWeight": "normal", "titleColor": "black"},
"axisY": {"titlePadding": 8},
"axisX": {"titlePadding": 2},
"title": {"font": "Liberation Sans", "fontSize": 13, "fontWeight": "normal", "color": "black", "offset": 2, "frame": "group"}
}
}
